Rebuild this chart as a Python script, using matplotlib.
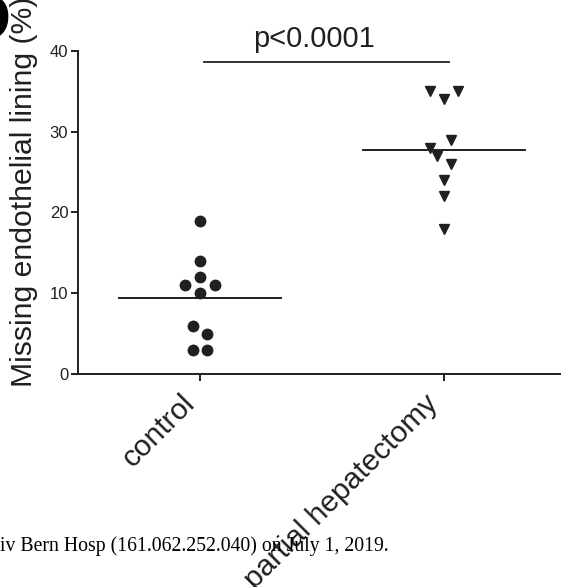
import numpy as np
import matplotlib
matplotlib.use("Agg")
import matplotlib.pyplot as plt

plt.rcParams["font.family"] = "Liberation Sans"

# data
groups = ["control", "partial hepatectomy"]
control_vals = [19, 14, 12, 11, 11, 10, 6, 5, 3, 3]
hepatectomy_vals = [35, 34, 35, 29, 28, 27, 26, 24, 22, 18]
# horizontal scatter offsets of the dot plot (as drawn)
control_jitter = [0, 0, 0, -0.06, 0.06, 0, -0.03, 0.03, -0.03, 0.03]
hepatectomy_jitter = [-0.057, 0, 0.057, 0.03, -0.057, -0.03, 0.03, 0, 0, 0]
y_ticks = [0, 10, 20, 30, 40]
p_text = "p<0.0001"

ink = "#231f20"

fig = plt.figure(figsize=(5.61, 5.87), dpi=100)
ax = fig.add_axes([78 / 561, 213 / 587, 488 / 561, 323 / 587])

ax.plot(np.array(control_jitter) + 0, control_vals, "o", color=ink,
        markersize=7.5, clip_on=False, zorder=3)
ax.plot(np.array(hepatectomy_jitter) + 1, hepatectomy_vals, "v", color=ink,
        markersize=7.5, clip_on=False, zorder=3)

# mean lines
for i, vals in enumerate([control_vals, hepatectomy_vals]):
    m = np.mean(vals)
    ax.plot([i - 0.33, i + 0.33], [m, m], color=ink, lw=1.4, zorder=2)

# significance bar
ax.plot([0.016, 1.02], [38.6, 38.6], color=ink, lw=1.3, clip_on=False)
ax.text(0.467, 40.5, p_text, ha="center", va="baseline", fontsize=21,
        color=ink, clip_on=False)

ax.set_xlim(-0.5, 1.5)
ax.set_ylim(0, 40)
ax.set_yticks(y_ticks)
ax.set_xticks([0, 1])
ax.set_xticklabels(groups, rotation=45, ha="right", va="top",
                   fontsize=21.5, color=ink)
ax.tick_params(axis="y", labelsize=12, length=5, width=1.4, color=ink,
               labelcolor=ink, pad=2)
ax.tick_params(axis="x", length=5, width=1.4, color=ink, pad=6)

for s in ["top", "right"]:
    ax.spines[s].set_visible(False)
for s in ["left", "bottom"]:
    ax.spines[s].set_linewidth(1.4)
    ax.spines[s].set_color(ink)

fig.text(24 / 561, 200 / 587, "Missing endothelial lining (%)", rotation=90,
         ha="center", va="bottom", fontsize=21.7, color=ink)

# cut-off panel letter and watermark line from the page
fig.text(11 / 561, 1 - 40 / 587, "D", ha="right", va="baseline", fontsize=48,
         fontweight="bold", color="black")
fig.text(0, 36 / 587, "iv Bern Hosp (161.062.252.040) on July 1, 2019.",
         family="Liberation Serif", fontsize=14.2, color="black",
         ha="left", va="baseline", zorder=10)

fig.savefig("out.png", dpi=100)
